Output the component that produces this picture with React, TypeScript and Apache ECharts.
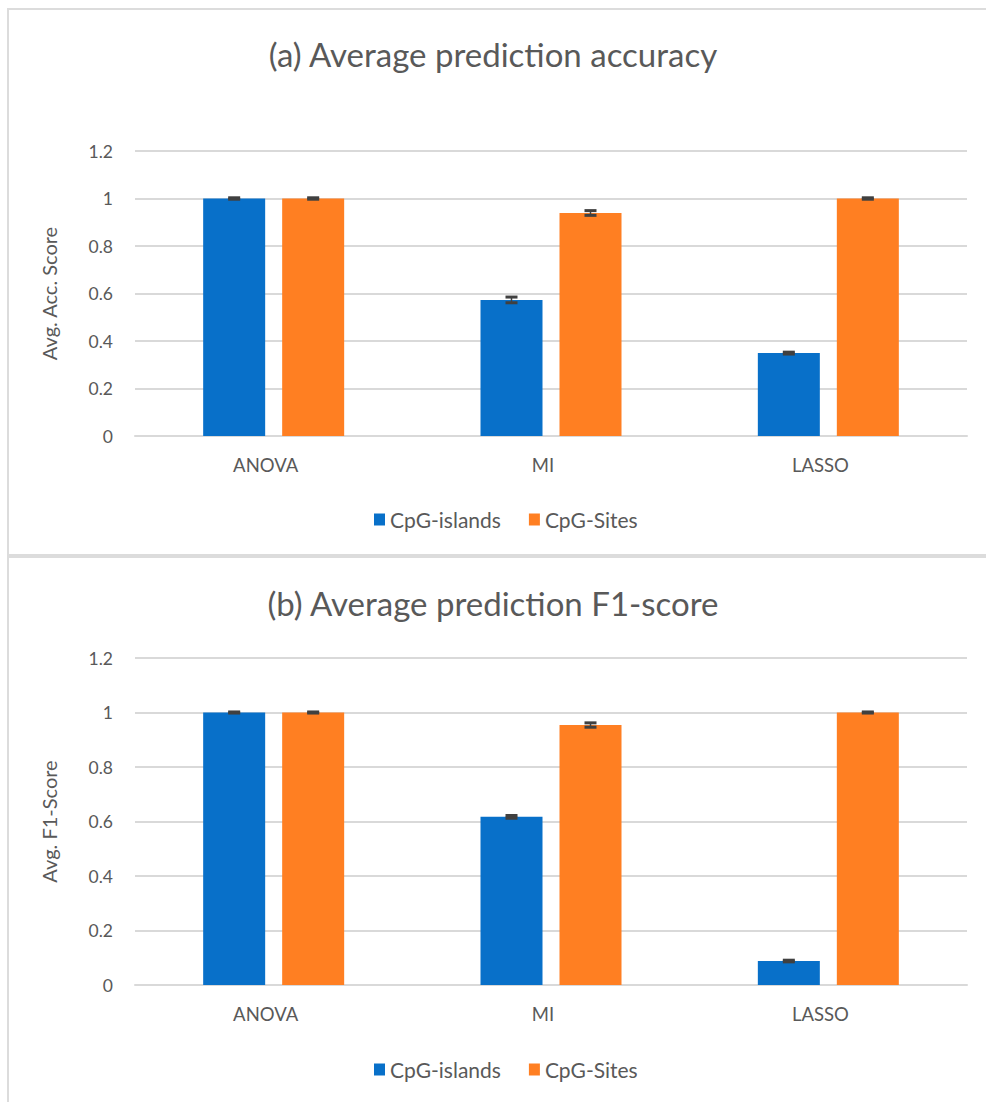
import React, { useEffect, useRef } from "react";
import * as echarts from "echarts";

const categories = ["ANOVA", "MI", "LASSO"];
const seriesNames = ["CpG-islands", "CpG-Sites"];
const accIslands = [1.0, 0.573, 0.349];
const accSites = [1.0, 0.939, 1.0];
const accIslandsErr = [0.003, 0.012, 0.004];
const accSitesErr = [0.003, 0.01, 0.003];
const f1Islands = [1.0, 0.617, 0.088];
const f1Sites = [1.0, 0.954, 1.0];
const f1IslandsErr = [0.002, 0.005, 0.003];
const f1SitesErr = [0.002, 0.008, 0.002];
const yTicks = { min: 0, max: 1.2, interval: 0.2 };

const BLUE = "#0870C9";
const ORANGE = "#FF7F22";
const TEXT = "#595959";
const FONT = "Lato, 'Open Sans', sans-serif";
const BAR_W = 62;
const GAP = 17;

function errSeries(vals: number[], errs: number[], idx: number, side: number) {
  return {
    type: "custom",
    name: "err" + idx + side,
    xAxisIndex: idx,
    yAxisIndex: idx,
    z: 10,
    silent: true,
    encode: { x: 0, y: 1 },
    data: vals.map((v, i) => [i, v, errs[i]]),
    renderItem: (params: any, api: any) => {
      const x = api.value(0);
      const v = api.value(1);
      const e = api.value(2);
      const hi = api.coord([x, v + e]);
      const lo = api.coord([x, v - e]);
      const off = side * (BAR_W / 2 + GAP / 2);
      const cx = hi[0] + off;
      const st = { stroke: "#404040", lineWidth: 3 };
      return {
        type: "group",
        children: [
          { type: "line", shape: { x1: cx, y1: hi[1], x2: cx, y2: lo[1] }, style: { stroke: "#404040", lineWidth: 1.5 } },
          { type: "line", shape: { x1: cx - 6, y1: hi[1], x2: cx + 6, y2: hi[1] }, style: st },
          { type: "line", shape: { x1: cx - 6, y1: lo[1], x2: cx + 6, y2: lo[1] }, style: st },
        ],
      };
    },
  };
}

export default function App() {
  const ref = useRef<HTMLDivElement>(null);
  useEffect(() => {
    if (!ref.current) return;
    const chart = echarts.init(ref.current, null, { renderer: "svg" });
    const grids = [
      { left: 135, right: 19, top: 151, height: 285 },
      { left: 135, right: 19, top: 658, height: 327 },
    ];
    const xAxes = grids.map((_, i) => ({
      type: "category",
      gridIndex: i,
      data: categories,
      axisTick: { show: false },
      axisLine: { lineStyle: { color: "#d9d9d9", width: 2 } },
      axisLabel: { color: TEXT, fontSize: 18.5, fontFamily: FONT, margin: 19, padding: [0, 16, 0, 0] },
    }));
    const names = ["Avg. Acc. Score", "Avg. F1-Score"];
    const yAxes = grids.map((_, i) => ({
      type: "value",
      gridIndex: i,
      min: yTicks.min,
      max: yTicks.max,
      interval: yTicks.interval,
      name: names[i],
      nameLocation: "middle",
      nameGap: 76,
      nameTextStyle: { color: TEXT, fontSize: 20, fontFamily: FONT },
      axisLabel: { color: TEXT, fontSize: 17.5, fontFamily: FONT, margin: 22 },
      splitLine: { lineStyle: { color: "#d9d9d9", width: 2 } },
      axisLine: { show: false },
      axisTick: { show: false },
    }));
    const barSeries = (name: string, data: number[], color: string, idx: number) => ({
      type: "bar",
      name,
      xAxisIndex: idx,
      yAxisIndex: idx,
      data,
      barWidth: BAR_W,
      barGap: (GAP / BAR_W) * 100 + "%",
      itemStyle: { color },
    });
    const legendCommon = {
      data: seriesNames,
      left: 369,
      itemWidth: 11,
      itemHeight: 12,
      itemGap: 28,
      icon: "rect",
      textStyle: { color: TEXT, fontSize: 21, fontFamily: FONT },
    };
    chart.setOption({
      animation: false,
      backgroundColor: "#ffffff",
      title: [
        { text: "(a) Average prediction accuracy", left: "center", top: 32, textStyle: { color: TEXT, fontSize: 33, fontWeight: "normal", fontFamily: FONT } },
        { text: "(b) Average prediction F1-score", left: "center", top: 581, textStyle: { color: TEXT, fontSize: 33, fontWeight: "normal", fontFamily: FONT } },
      ],
      legend: [
        { ...legendCommon, top: 504 },
        { ...legendCommon, top: 1054 },
      ],
      grid: grids,
      xAxis: xAxes,
      yAxis: yAxes,
      series: [
        barSeries(seriesNames[0], accIslands, BLUE, 0),
        barSeries(seriesNames[1], accSites, ORANGE, 0),
        barSeries(seriesNames[0], f1Islands, BLUE, 1),
        barSeries(seriesNames[1], f1Sites, ORANGE, 1),
        errSeries(accIslands, accIslandsErr, 0, -1),
        errSeries(accSites, accSitesErr, 0, 1),
        errSeries(f1Islands, f1IslandsErr, 1, -1),
        errSeries(f1Sites, f1SitesErr, 1, 1),
      ],
      graphic: [
        { type: "rect", shape: { x: 7, y: 8, width: 979, height: 2 }, style: { fill: "#dcdcdc" } },
        { type: "rect", shape: { x: 7, y: 8, width: 2, height: 1094 }, style: { fill: "#dcdcdc" } },
        { type: "rect", shape: { x: 7, y: 554, width: 979, height: 4 }, style: { fill: "#dcdcdc" } },
      ],
    });
    return () => chart.dispose();
  }, []);
  return (
    <div
      ref={ref}
      style={{ position: "fixed", left: 0, top: 0, width: 986, height: 1102 }}
    />
  );
}
